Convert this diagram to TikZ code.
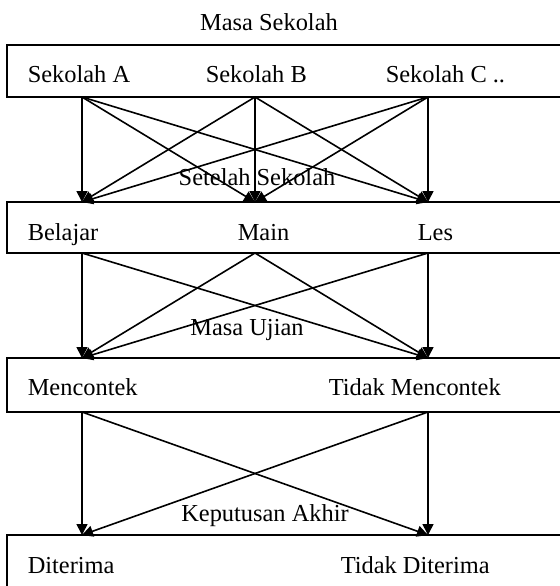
\documentclass[tikz,border=0pt]{standalone}
\usepackage{fontspec}
\setmainfont{Liberation Serif}
\usetikzlibrary{arrows.meta}

\begin{document}
\begin{tikzpicture}[x=0.5pt,y=-0.5pt,>={Triangle[length=5.5pt,width=5.5pt]},line width=0.8pt,
    item/.style={anchor=base west,inner sep=0pt,font=\fontsize{12.2}{14}\selectfont},
    stage/.style={anchor=base,inner sep=0pt,font=\fontsize{12.2}{14}\selectfont}]

      \useasboundingbox (0,0) rectangle (560,586);
      \clip (0,0) rectangle (560,586);

      % bands
      \draw (7,45) rectangle (580,97);
      \draw (7,202) rectangle (580,253);
      \draw (7,358) rectangle (580,412);
      \draw (7,535) rectangle (580,600);

      % stage titles
      \node[stage] (masa) at (269,30) {Masa Sekolah};
      \node[stage] (setelah) at (257,185) {Setelah Sekolah};
      \node[stage] (ujian) at (247,335) {Masa Ujian};
      \node[stage] (akhir) at (265,521) {Keputusan Akhir};

      % entries
      \node[item] (sekA) at (27,82) {Sekolah A};
      \node[item] (sekB) at (205,82) {Sekolah B};
      \node[item] (sekC) at (385,82) {Sekolah C ..};
      \node[item] (belajar) at (27,240) {Belajar};
      \node[item] (main) at (237,240) {Main};
      \node[item] (les) at (417,240) {Les};
      \node[item] (contek) at (27,395) {Mencontek};
      \node[item] (tcontek) at (328,395) {Tidak Mencontek};
      \node[item] (terima) at (27,573) {Diterima};
      \node[item] (tterima) at (340,573) {Tidak Diterima};

      % ports on the band edges
      \coordinate (sekA-out) at (82,97);
      \coordinate (sekB-out) at (255,97);
      \coordinate (sekC-out) at (428,97);
      \coordinate (belajar-in) at (82,202);
      \coordinate (main-in) at (255,202);
      \coordinate (les-in) at (428,202);
      \coordinate (belajar-out) at (82,253);
      \coordinate (main-out) at (255,253);
      \coordinate (les-out) at (428,253);
      \coordinate (contek-in) at (82,358);
      \coordinate (tcontek-in) at (428,358);
      \coordinate (contek-out) at (82,412);
      \coordinate (tcontek-out) at (428,412);
      \coordinate (terima-in) at (82,535);
      \coordinate (tterima-in) at (428,535);

      \foreach \s in {sekA,sekB,sekC}
        \foreach \t in {belajar,main,les}
          \draw[->] (\s-out) -- (\t-in);
      \foreach \s in {belajar,main,les}
        \foreach \t in {contek,tcontek}
          \draw[->] (\s-out) -- (\t-in);
      \foreach \s in {contek,tcontek}
        \foreach \t in {terima,tterima}
          \draw[->] (\s-out) -- (\t-in);
\end{tikzpicture}
\end{document}
